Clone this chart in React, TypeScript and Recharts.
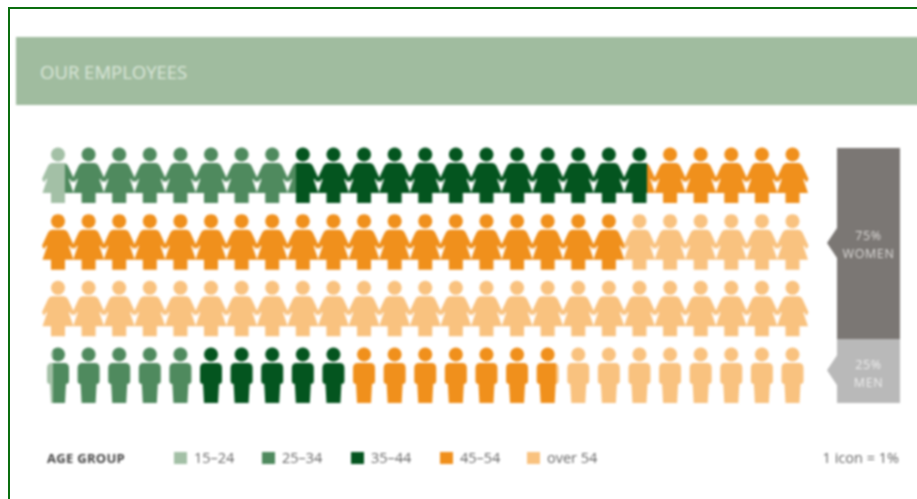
import React from 'react';
import { Bar, BarChart, LabelList, Scatter, ScatterChart, XAxis, YAxis } from 'recharts';

const ageGroups = ['15–24', '25–34', '35–44', '45–54', 'over 54'];
const ageColors = ['#a3c0a6', '#4f8a5e', '#04551f', '#f0901c', '#f9c27f'];
const womenShares = [0.72, 7.58, 11.45, 24.25, 31];
const menShares = [0.29, 4.71, 5, 6.9, 8.1];
const genderLabels = ['WOMEN', 'MEN'];
const genderShares = [75, 25];
const genderColors = ['#7b7774', '#b9b9b9'];
const ICONS_PER_ROW = 25;

const WOMAN_PATH =
    'M0,-0.5 a7,7 0 1,0 0.01,0 Z M-5,15 L5,15 Q9,15 10.5,19 L16,31 L14,34.5 L11.5,30.5 L11,32 L15.5,45 L7,45 L7,55 L-7,55 L-7,45 L-15.5,45 L-11,32 L-11.5,30.5 L-14,34.5 L-16,31 L-10.5,19 Q-9,15 -5,15 Z';
const MAN_PATH =
    'M0,-0.5 a7,7 0 1,0 0.01,0 Z M-6,15 L6,15 Q11,15 11,20 L11,33 Q11,36 8,36 L7,55 L-7,55 L-8,36 Q-11,36 -11,33 L-11,20 Q-11,15 -6,15 Z';

type Band = { color: string; from: number; to: number };
type Icon = { col: number; row: number; man: boolean; bands: Band[] };

// each icon is one percent; an age group can end part way through an icon
const buildIcons = (shares: number[], startIndex: number, man: boolean): Icon[] => {
    const total = shares.reduce((a, b) => a + b, 0);
    const icons: Icon[] = [];
    for (let i = 0; i < total - 0.001; i++) {
        let cum = 0;
        const bands: Band[] = [];
        shares.forEach((share, g) => {
            const from = Math.max(cum, i);
            const to = Math.min(cum + share, i + 1);
            if (to > from) bands.push({ color: ageColors[g], from: from - i, to: to - i });
            cum += share;
        });
        const idx = i + startIndex;
        icons.push({ col: idx % ICONS_PER_ROW, row: Math.floor(idx / ICONS_PER_ROW), man, bands });
    }
    return icons;
};

const icons = [...buildIcons(womenShares, 0, false), ...buildIcons(menShares, 75, true)];
const genderRow = [{ name: 'all', women: genderShares[0], men: genderShares[1] }];

const IconShape = (props: any) => {
    const { cx, cy, payload } = props;
    const id = `icon-${payload.row}-${payload.col}`;
    return (
        <g transform={`translate(${cx},${cy - 27.5})`}>
            <defs>
                <linearGradient id={id} x1="0" x2="1" y1="0" y2="0">
                    {payload.bands.flatMap((b: Band, i: number) => [
                        <stop key={`${i}a`} offset={b.from} stopColor={b.color} />,
                        <stop key={`${i}b`} offset={b.to} stopColor={b.color} />,
                    ])}
                </linearGradient>
            </defs>
            <path d={payload.man ? MAN_PATH : WOMAN_PATH} fill={`url(#${id})`} />
        </g>
    );
};

// bar segment with the little arrow pointing at the icons
const GenderBar = (props: any) => {
    const { x, y, width, height, fill, arrowAt } = props;
    const center = y + arrowAt;
    return (
        <g>
            <rect x={x} y={y} width={width} height={height} fill={fill} />
            <path d={`M${x},${center - 15} L${x - 10},${center} L${x},${center + 15} Z`} fill={fill} />
        </g>
    );
};

const genderLabel = (share: number, name: string, color: string, baseline: number) => (props: any) => (
    <text x={props.x + props.width / 2} y={props.y + baseline} textAnchor="middle" fill={color} fontSize={12.5} letterSpacing={0.6} fontFamily="Open Sans">
        <tspan x={props.x + props.width / 2}>{share}%</tspan>
        <tspan x={props.x + props.width / 2} dy={18}>{name}</tspan>
    </text>
);

const AgeLegend = () => {
    const swatchX = [174, 262, 351, 440, 527];
    return (
        <div style={{ position: 'absolute', left: 0, top: 0, width: 917, height: 499, color: '#666', fontFamily: 'Open Sans', fontSize: 14.5 }}>
            <div style={{ position: 'absolute', left: 47, top: 449, fontWeight: 700, fontSize: 13, letterSpacing: 0.3, color: '#444' }}>AGE GROUP</div>
            {ageGroups.map((g, i) => (
                <React.Fragment key={g}>
                    <div style={{ position: 'absolute', left: swatchX[i], top: 452, width: 13, height: 12, background: ageColors[i] }} />
                    <div style={{ position: 'absolute', left: swatchX[i] + 20, top: 448 }}>{g}</div>
                </React.Fragment>
            ))}
            <div style={{ position: 'absolute', right: 18, top: 448 }}>1 icon = 1%</div>
        </div>
    );
};

export default function App() {
    return (
        <div style={{ position: 'absolute', left: 0, top: 0, width: 917, height: 499, overflow: 'hidden', background: '#fff' }}>
            <div style={{ position: 'absolute', left: 0, top: 0, width: 917, height: 499, filter: 'blur(0.9px)' }}>
                <div style={{ position: 'absolute', left: 16, top: 37, width: 920, height: 68, background: '#a0bc9f' }} />
                <div style={{ position: 'absolute', left: 40, top: 59, color: '#dbe7da', fontFamily: 'Open Sans', fontSize: 18.5 }}>OUR EMPLOYEES</div>

                <div style={{ position: 'absolute', left: 0, top: 0 }}>
                    <ScatterChart width={917} height={499} margin={{ left: 58, right: 124.5, top: 175.5, bottom: 123.5 }}>
                        <XAxis type="number" dataKey="col" domain={[0, 24]} hide />
                        <YAxis type="number" dataKey="row" domain={[0, 3]} reversed hide />
                        <Scatter data={icons} shape={IconShape} isAnimationActive={false} />
                    </ScatterChart>
                </div>

                <div style={{ position: 'absolute', left: 817, top: 148 }}>
                    <BarChart width={83} height={255} data={genderRow} margin={{ left: 20, right: 0, top: 0, bottom: 0 }} barCategoryGap={0}>
                        <XAxis dataKey="name" hide />
                        <YAxis type="number" domain={[0, 100]} hide />
                        <Bar dataKey="men" stackId="g" fill={genderColors[1]} shape={(p: any) => <GenderBar {...p} arrowAt={31} />} isAnimationActive={false}>
                            <LabelList dataKey="men" content={genderLabel(genderShares[1], genderLabels[1], '#eeeeee', 30)} />
                        </Bar>
                        <Bar dataKey="women" stackId="g" fill={genderColors[0]} shape={(p: any) => <GenderBar {...p} arrowAt={95} />} isAnimationActive={false}>
                            <LabelList dataKey="women" content={genderLabel(genderShares[0], genderLabels[0], '#dcdad8', 92)} />
                        </Bar>
                    </BarChart>
                </div>

                <AgeLegend />
            </div>
            <div style={{ position: 'absolute', left: 8, top: 7, width: 909, height: 492, borderLeft: '2px solid #0a6e0f', borderTop: '2px solid #0a6e0f', boxSizing: 'border-box' }} />
        </div>
    );
}
